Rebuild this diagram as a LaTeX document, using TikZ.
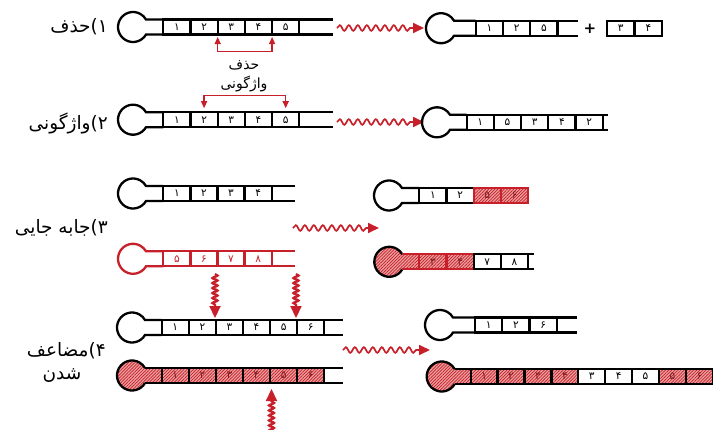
\documentclass[tikz,border=0pt]{standalone}
\usepackage{fontspec}
\newfontfamily\fa[Script=Arabic]{DejaVu Sans}
\TeXXeTstate=1
\usetikzlibrary{arrows.meta,decorations.pathmorphing,patterns.meta,calc}
\definecolor{redc}{HTML}{C8202A}
\definecolor{hbg}{HTML}{EE9E9E}
\definecolor{hln}{HTML}{C21F28}
\definecolor{htx}{HTML}{7A1A20}
\tikzset{
  strand/.style={line width=2.3, draw=black},
  cell/.style={draw=black, line width=2.3, minimum width=27.2, minimum height=15,
    inner sep=0, outer sep=0, font=\fa\fontsize{10.5}{10.5}\selectfont},
  hat/.style={preaction={fill=hbg}, pattern={Lines[angle=45,distance=2.2pt,line width=0.7pt]}, pattern color=hln},
  nc/.style={},
  rc/.style={draw=redc, text=redc},
  hc/.style={hat, text=htx},
  hrc/.style={hat, draw=redc, text=htx},
  wavy/.style={draw=redc, line width=1.7, decorate,
    decoration={snake, segment length=9, amplitude=2.8, post length=10},
    -{Triangle[length=11pt,width=10pt]}},
  vwavy/.style={draw=redc, line width=2.2, decorate,
    decoration={snake, segment length=5, amplitude=2.6, post length=11},
    -{Triangle[length=12pt,width=11pt]}},
  bracket/.style={draw=redc, line width=1.4, {Triangle[length=7pt,width=6pt]}-{Triangle[length=7pt,width=6pt]}},
  lbl/.style={font=\fa\fontsize{18.5}{22}\selectfont, inner sep=0},
  slbl/.style={font=\fa\fontsize{14}{16}\selectfont, inner sep=0},
}
% cell row: #1 name prefix, #2 x0, #3 y, #4 width, #5 list style/label
\newcommand\cellrow[5]{%
  \foreach [count=\i] \s/\l in {#5} {%
    \node[cell,minimum width=#4,\s] (#1\i) at ({#2+(\i-0.5)*#4},#3) {\l};
  }}
% open head: #1 cx, #2 cy, #3 stem end x, #4 style
\newcommand\openhead[4]{%
  \draw[strand,#4] (#3,#2+7.5) -- (#1+13,#2+7.5) arc[start angle=30,end angle=330,radius=15] -- (#3,#2-7.5);}
% hatched head: #1 cx, #2 cy, #3 stem end x, #4 stem colour
\newcommand\hathead[4]{%
  \path[hat] (#3,#2+7.5) -- (#1+13,#2+7.5) arc[start angle=30,end angle=330,radius=15] -- (#3,#2-7.5) -- cycle;
  \draw[strand] (#1+13,#2+7.5) arc[start angle=30,end angle=330,radius=15];
  \draw[strand,draw=#4] (#1+13,#2+7.5) -- (#3,#2+7.5);
  \draw[strand,draw=#4] (#1+13,#2-7.5) -- (#3,#2-7.5);}
% tail: #1 last cell, #2 end x, #3 style
\newcommand\tail[3]{%
  \draw[strand,#3] (#1.north east) -- (#2,0 |- #1.north east);
  \draw[strand,#3] (#1.south east) -- (#2,0 |- #1.south east);}
\begin{document}
\begin{tikzpicture}[x=1pt,y=-1pt]
\useasboundingbox[fill=white] (0,0) rectangle (713,429);

% ---------- Row 1: deletion ----------
\node[lbl,anchor=east] (L1) at (108,27) {\beginR ۱)حذف\endR};
\openhead{133}{27}{163.3}{}
\cellrow{a}{163.3}{27}{27.2}{nc/۱,nc/۲,nc/۳,nc/۴,nc/۵}
\tail{a5}{333}{}
\draw[bracket] ([yshift=-2.5]a2.south east) -- ([yshift=-17]a2.south east) -| ([yshift=-2.5]a4.south east);
\node[slbl] (S1) at (244,65) {\beginR حذف\endR};
\node[slbl] (S2) at (244,84) {\beginR واژگونی\endR};

\coordinate (w1s) at (337,28);
\coordinate (w1e) at (424,28);
\draw[wavy] (w1s) -- (w1e);

\openhead{441}{28.2}{475.7}{}
\cellrow{b}{475.7}{28.2}{27.3}{nc/۱,nc/۲,nc/۵}
\tail{b3}{578}{}
\node[font=\fa\fontsize{15}{15}\selectfont\bfseries] (plus) at (590,29) {+};
\cellrow{c}{606.7}{28.2}{27.8}{nc/۳,nc/۴}

% ---------- Row 2: inversion ----------
\node[lbl,anchor=east] (L2) at (108,123) {\beginR ۲)واژگونی\endR};
\openhead{133}{119.7}{163.3}{}
\cellrow{d}{163.3}{119.7}{27.2}{nc/۱,nc/۲,nc/۳,nc/۴,nc/۵}
\tail{d5}{333}{}
\draw[bracket] ([yshift=4]d2.north) -- ([yshift=17]d2.north) -| ([yshift=4]d5.north);

\coordinate (w2s) at (337,122);
\coordinate (w2e) at (424,122);
\draw[wavy] (w2s) -- (w2e);

\openhead{437}{122.3}{466.7}{}
\cellrow{e}{466.7}{122.3}{27.2}{nc/۱,nc/۵,nc/۳,nc/۴,nc/۲}
\tail{e5}{608}{}

% ---------- Row 3: translocation ----------
\node[lbl,anchor=east] (L3) at (108,228) {\beginR ۳)جابه جایی\endR};
\openhead{133}{193.5}{163.3}{}
\cellrow{f}{163.3}{193.5}{27.1}{nc/۱,nc/۲,nc/۳,nc/۴}
\tail{f4}{295}{}
\openhead{133}{258.8}{163.3}{draw=redc}
\cellrow{g}{163.3}{258.8}{27.1}{rc/۵,rc/۶,rc/۷,rc/۸}
\tail{g4}{295}{draw=redc}

\coordinate (w3s) at (293,228);
\coordinate (w3e) at (379,228);
\draw[wavy] (w3s) -- (w3e);

\openhead{389}{195.5}{419.3}{}
\cellrow{h}{419.3}{195.5}{27.2}{nc/۱,nc/۲,hrc/۵,hrc/۶}
\hathead{389.3}{261.8}{419.3}{redc}
\cellrow{k}{419.3}{261.8}{27.2}{hrc/۳,hrc/۴,nc/۷,nc/۸}
\tail{k4}{534}{}

% vertical arrows row 3 -> row 4
\coordinate (v1s) at (215,274);
\coordinate (v1e) at (215,318);
\coordinate (v2s) at (296,274);
\coordinate (v2e) at (296,318);
\draw[vwavy] (v1s) -- (v1e);
\draw[vwavy] (v2s) -- (v2e);

% ---------- Row 4: duplication ----------
\node[lbl,anchor=east] (L4) at (106,351) {\beginR ۴)مضاعف\endR};
\node[lbl] (L4b) at (62,376) {\beginR شدن\endR};
\openhead{132}{327.5}{161.7}{}
\cellrow{m}{161.7}{327.5}{27.1}{nc/۱,nc/۲,nc/۳,nc/۴,nc/۵,nc/۶}
\tail{m6}{343}{}
\hathead{132}{375.5}{161.7}{black}
\cellrow{n}{161.7}{375.5}{27.1}{hc/۱,hc/۲,hc/۳,hc/۴,hc/۵,hc/۶}
\tail{n6}{343}{}

\coordinate (v3s) at (271.5,432);
\coordinate (v3e) at (271.5,389);
\draw[vwavy] (v3s) -- (v3e);

\coordinate (w4s) at (343,350);
\coordinate (w4e) at (430,350);
\draw[wavy] (w4s) -- (w4e);

\openhead{440}{325}{475}{}
\cellrow{p}{475}{325}{27.3}{nc/۱,nc/۲,nc/۶}
\tail{p3}{576.7}{}
\hathead{441.7}{376.5}{470.7}{black}
\cellrow{q}{470.7}{376.5}{26.9}{hc/۱,hc/۲,hc/۳,hc/۴,nc/۳,nc/۴,nc/۵,hc/۵,hc/۶}
\end{tikzpicture}
\end{document}
